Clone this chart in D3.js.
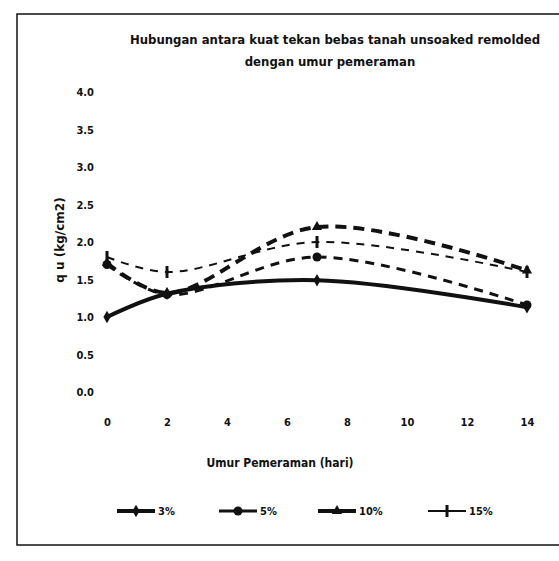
<!DOCTYPE html>
<html>
  <head>
    <meta charset="utf-8">
    <title>Kuat tekan bebas</title>
    <script src="https://d3js.org/d3.v7.min.js"></script>
    <style>
      body { margin: 0; background: #fff; }
      text { font-family: "DejaVu Sans", sans-serif; fill: #111; }
    </style>
  </head>
  <body>
    <script>
    var w = 559, h = 561;

    // umur pemeraman (hari)
    var days = [0, 2, 7, 14];
    var xTicks = [0, 2, 4, 6, 8, 10, 12, 14];
    var yTicks = [0, 0.5, 1, 1.5, 2, 2.5, 3, 3.5, 4];

    var seriesNames = ["3%", "5%", "10%", "15%"];
    var qu3 = [1.0, 1.31, 1.49, 1.13];
    var qu5 = [1.70, 1.30, 1.80, 1.16];
    var qu10 = [1.72, 1.32, 2.20, 1.62];
    var qu15 = [1.80, 1.60, 2.00, 1.60];

    var styles = [
      {width: 4, dash: null, marker: "diamond"},
      {width: 3, dash: "9,7", marker: "circle"},
      {width: 4, dash: "11,7", marker: "triangle"},
      {width: 2, dash: "8,7", marker: "bar"}
    ];

    var allSeries = [qu3, qu5, qu10, qu15];

    var svg = d3.select("body").append("svg")
      .attr("width", w).attr("height", h);

    // frame
    svg.append("rect")
      .attr("x", 17).attr("y", 14)
      .attr("width", 560).attr("height", 531)
      .attr("fill", "none").attr("stroke", "#111").attr("stroke-width", 1.5);

    var x = d3.scaleLinear().domain([0, 14]).range([107, 527]);
    var y = d3.scaleLinear().domain([0, 4]).range([392, 92]);

    // title
    svg.append("text").attr("x", 335).attr("y", 44)
      .attr("text-anchor", "middle").attr("font-weight", "bold").attr("font-size", 13)
      .style("font-stretch", "condensed")
      .text("Hubungan antara kuat tekan bebas tanah unsoaked remolded");
    svg.append("text").attr("x", 330).attr("y", 66)
      .attr("text-anchor", "middle").attr("font-weight", "bold").attr("font-size", 13)
      .style("font-stretch", "condensed")
      .text("dengan umur pemeraman");

    // axes (no axis lines, labels only)
    var yAxis = svg.append("g").attr("transform", "translate(98,0)")
      .call(d3.axisLeft(y).tickValues(yTicks).tickSize(0).tickPadding(4)
        .tickFormat(d3.format(".1f")));
    var xAxis = svg.append("g").attr("transform", "translate(0,410)")
      .call(d3.axisBottom(x).tickValues(xTicks).tickSize(0).tickPadding(8));
    [xAxis, yAxis].forEach(function(a){
      a.select(".domain").remove();
      a.selectAll("text").attr("font-size", 11).attr("font-weight", "bold")
        .style("font-family", "'DejaVu Sans', sans-serif")
        .style("font-stretch", "condensed");
    });

    svg.append("text").attr("x", 280).attr("y", 467)
      .attr("text-anchor", "middle").attr("font-weight", "bold").attr("font-size", 12)
      .style("font-stretch", "condensed")
      .text("Umur Pemeraman (hari)");
    svg.append("text")
      .attr("transform", "translate(64,240) rotate(-90)")
      .attr("text-anchor", "middle").attr("font-weight", "bold").attr("font-size", 12)
      .text("q u  (kg/cm2)");

    var line = d3.line()
      .x(function(d, i){ return x(days[i]); })
      .y(function(d){ return y(d); })
      .curve(d3.curveCatmullRom.alpha(0.5));

    function marker(g, type, cx, cy){
      if(type === "diamond"){
        g.append("path").attr("d", d3.symbol().type(d3.symbolDiamond).size(45)())
          .attr("transform", "translate(" + cx + "," + cy + ")").attr("fill", "#111");
      } else if(type === "circle"){
        g.append("circle").attr("cx", cx).attr("cy", cy).attr("r", 4.5).attr("fill", "#111");
      } else if(type === "triangle"){
        g.append("path").attr("d", d3.symbol().type(d3.symbolTriangle).size(45)())
          .attr("transform", "translate(" + cx + "," + cy + ")").attr("fill", "#111");
      } else {
        g.append("rect").attr("x", cx - 1.5).attr("y", cy - 6)
          .attr("width", 3).attr("height", 12).attr("fill", "#111");
      }
    }

    allSeries.forEach(function(vals, k){
      var s = styles[k];
      var g = svg.append("g");
      g.append("path").datum(vals)
        .attr("d", line)
        .attr("fill", "none").attr("stroke", "#111")
        .attr("stroke-width", s.width)
        .attr("stroke-dasharray", s.dash);
      vals.forEach(function(v, i){ marker(g, s.marker, x(days[i]), y(v)); });
    });

    // legend
    var legX = [117, 219, 318, 428];
    seriesNames.forEach(function(name, k){
      var s = styles[k];
      var g = svg.append("g");
      var lx = legX[k], ly = 511;
      g.append("line").attr("x1", lx).attr("x2", lx + 38)
        .attr("y1", ly).attr("y2", ly)
        .attr("stroke", "#111").attr("stroke-width", s.width);
      marker(g, s.marker, lx + 19, ly);
      g.append("text").attr("x", lx + 41).attr("y", ly + 4)
        .attr("font-size", 11).attr("font-weight", "bold")
        .style("font-stretch", "condensed").text(name);
    });
    </script>
  </body>
</html>
